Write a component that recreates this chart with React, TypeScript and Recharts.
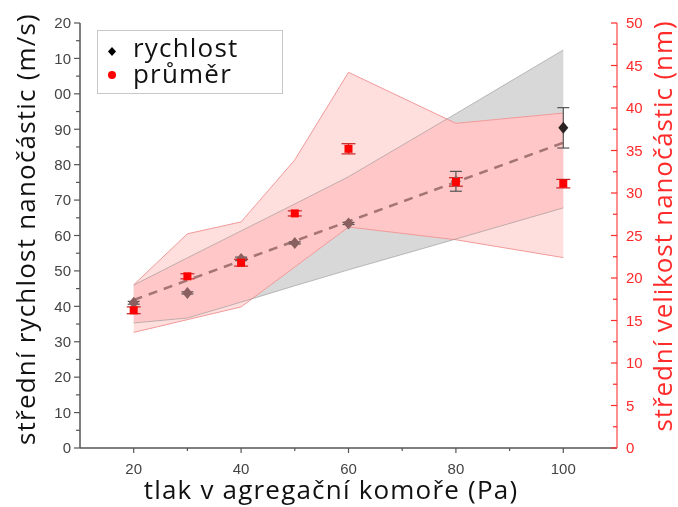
import {
  ComposedChart,
  Area,
  Line,
  Scatter,
  ErrorBar,
  XAxis,
  YAxis,
} from "recharts";

// tlak v agregační komoře (Pa)
const pressure = [20, 30, 40, 50, 60, 80, 100];

// střední rychlost (m/s), left axis
const velocity = [41.0, 43.8, 53.4, 57.9, 63.4, 75.3, 90.4];
const velocityErr = [0.4, 0.3, 0.5, 0.3, 0.3, 2.8, 5.7];
const velocityBandLow = [35.3, 36.7, 41.2, 45.8, 50.3, 59.0, 67.8];
const velocityBandHigh = [46.0, 53.7, 61.3, 68.9, 76.6, 94.4, 112.4];
// linear fit, drawn between the end points only
const velocityFit = [41.8, null, null, null, null, null, 86.2];

// střední velikost (nm), right axis
const diameter = [16.2, 20.2, 21.8, 27.6, 35.2, 31.3, 31.1];
const diameterErr = [0.4, 0.3, 0.4, 0.3, 0.6, 0.5, 0.5];
const diameterBandLow = [13.6, 15.1, 16.6, 21.3, 26.0, 24.5, 22.4];
const diameterBandHigh = [19.2, 25.2, 26.6, 33.9, 44.2, 38.2, 39.4];

const xTicks = [20, 30, 40, 50, 60, 70, 80, 90, 100];
const leftTicks = Array.from({ length: 25 }, (_, i) => i * 5);
const rightTicks = Array.from({ length: 21 }, (_, i) => i * 2.5);

const data = pressure.map((p, i) => ({
  x: p,
  vel: velocity[i],
  velErr: velocityErr[i],
  velBand: [velocityBandLow[i], velocityBandHigh[i]],
  fit: velocityFit[i],
  dia: diameter[i],
  diaErr: diameterErr[i],
  diaBand: [diameterBandLow[i], diameterBandHigh[i]],
}));

const AXIS = "#555";
const RED = "#ff2a2a";
const TICK_FONT = "'Liberation Sans', Arial, sans-serif";
const TITLE_FONT = "'Open Sans', 'Noto Sans', sans-serif";

const XTick = (props: any) => {
  const { x, y, payload } = props;
  const v = payload.value;
  const major = v % 20 === 0;
  return (
    <g>
      <line x1={x} x2={x} y1={y} y2={y + (major ? 5 : 3)} stroke={AXIS} strokeWidth={1.2} />
      {major && (
        <text x={x} y={y + 21} dy="0.35em" textAnchor="middle" fontSize={15} fill="#444" fontFamily={TICK_FONT}>
          {v}
        </text>
      )}
    </g>
  );
};

const LeftTick = (props: any) => {
  const { x, y, payload } = props;
  const v = payload.value;
  const major = v % 10 === 0;
  // the top labels are cut at the left edge in the original
  const label = v >= 100 ? String(v).slice(1) : String(v);
  return (
    <g>
      <line x1={x} x2={x - (major ? 6 : 4)} y1={y} y2={y} stroke={AXIS} strokeWidth={1.2} />
      {major && (
        <text x={x - 9} y={y} dy="0.35em" textAnchor="end" fontSize={15} fill="#444" fontFamily={TICK_FONT}>
          {label}
        </text>
      )}
    </g>
  );
};

const RightTick = (props: any) => {
  const { x, y, payload } = props;
  const v = payload.value;
  const major = v % 5 === 0;
  return (
    <g>
      <line x1={x} x2={x - (major ? 6 : 4)} y1={y} y2={y} stroke={RED} strokeWidth={1.2} />
      {major && (
        <text x={x + 9} y={y} dy="0.35em" textAnchor="start" fontSize={15} fill={RED} fontFamily={TICK_FONT}>
          {v}
        </text>
      )}
    </g>
  );
};

const Diamond = (props: any) => {
  const { cx, cy, index } = props;
  const fill = index === pressure.length - 1 ? "#2a2222" : "#8a5f5f";
  return (
    <polygon
      points={`${cx},${cy - 6} ${cx + 5},${cy} ${cx},${cy + 6} ${cx - 5},${cy}`}
      fill={fill}
    />
  );
};

const Square = (props: any) => {
  const { cx, cy } = props;
  return <rect x={cx - 4} y={cy - 4} width={8} height={8} fill="#ff0000" />;
};

const titleStyle = {
  position: "absolute" as const,
  whiteSpace: "nowrap" as const,
  fontFamily: TITLE_FONT,
  fontSize: 26,
  lineHeight: "26px",
};

export default function App() {
  return (
    <div style={{ position: "absolute", left: 0, top: 0, width: 678, height: 507, background: "#fff" }}>
      <style>{`.pink-tint .recharts-area-area { mix-blend-mode: color; }`}</style>
      <ComposedChart width={678} height={507} data={data} margin={{ top: 23, right: 0, left: 0, bottom: 0 }}>
        <XAxis
          dataKey="x"
          type="number"
          domain={[10, 110]}
          ticks={xTicks}
          height={59}
          axisLine={{ stroke: AXIS, strokeWidth: 1.5 }}
          tickLine={false}
          tickSize={0}
          tickMargin={0}
          tick={<XTick />}
          interval={0}
        />
        <XAxis
          xAxisId="top"
          dataKey="x"
          type="number"
          domain={[10, 110]}
          orientation="top"
          height={0}
          tick={false}
          tickLine={false}
          axisLine={{ stroke: AXIS, strokeWidth: 2 }}
        />
        <YAxis
          yAxisId="left"
          domain={[0, 120]}
          ticks={leftTicks}
          width={80}
          interval={0}
          axisLine={{ stroke: AXIS, strokeWidth: 1.5 }}
          tickLine={false}
          tickSize={0}
          tickMargin={0}
          tick={<LeftTick />}
        />
        <YAxis
          yAxisId="right"
          orientation="right"
          domain={[0, 50]}
          ticks={rightTicks}
          width={61}
          interval={0}
          axisLine={{ stroke: "#ff6b6b", strokeWidth: 1.5 }}
          tickLine={false}
          tickSize={0}
          tickMargin={0}
          tick={<RightTick />}
        />
        {/* pink band base */}
        <Area
          yAxisId="right"
          type="linear"
          dataKey="diaBand"
          stroke="none"
          fill="#ffdede"
          fillOpacity={1}
          isAnimationActive={false}
        />
        {/* grey band of the speed */}
        <Area
          yAxisId="left"
          type="linear"
          dataKey="velBand"
          stroke="none"
          fill="#d8d8d8"
          fillOpacity={1}
          isAnimationActive={false}
        />
        {/* pink tint over the grey where the bands overlap */}
        <Area
          className="pink-tint"
          yAxisId="right"
          type="linear"
          dataKey="diaBand"
          stroke="#f29a9a"
          strokeWidth={1}
          fill="#ff0000"
          fillOpacity={1}
          isAnimationActive={false}
        />
        {/* grey band edges */}
        <Area
          yAxisId="left"
          type="linear"
          dataKey="velBand"
          stroke="#8c8c8c"
          strokeOpacity={0.55}
          strokeWidth={1}
          fill="none"
          isAnimationActive={false}
        />
        <Line
          yAxisId="left"
          type="linear"
          dataKey="fit"
          stroke="#a57474"
          strokeWidth={2.5}
          strokeDasharray="9 7"
          dot={false}
          connectNulls
          isAnimationActive={false}
        />
        <Scatter yAxisId="left" dataKey="vel" shape={<Diamond />} isAnimationActive={false}>
          <ErrorBar dataKey="velErr" direction="y" width={6} stroke="#555" strokeWidth={1.2} />
        </Scatter>
        <Scatter yAxisId="right" dataKey="dia" shape={<Square />} isAnimationActive={false}>
          <ErrorBar dataKey="diaErr" direction="y" width={7} stroke="#c42020" strokeWidth={1.2} />
        </Scatter>
      </ComposedChart>

      {/* legend */}
      <div
        style={{
          position: "absolute",
          left: 97,
          top: 30,
          width: 184,
          height: 62,
          border: "1px solid #c8c8c8",
          background: "#fff",
          fontFamily: TITLE_FONT,
          fontSize: 26,
          lineHeight: "26px",
          letterSpacing: "1.2px",
          color: "#111",
        }}
      >
        <div style={{ position: "absolute", left: 35, top: 3 }}>rychlost</div>
        <div style={{ position: "absolute", left: 35, top: 29 }}>průměr</div>
        <svg style={{ position: "absolute", left: 0, top: 0 }} width={30} height={62}>
          <polygon points="14,16 18,20.5 14,25 10,20.5" fill="#000" />
          <circle cx={14} cy={44} r={4} fill="#ff0000" />
        </svg>
      </div>

      {/* axis titles */}
      <div
        style={{
          ...titleStyle,
          left: 25,
          top: 229,
          letterSpacing: "1.2px",
          transform: "translate(-50%, -50%) rotate(-90deg)",
          color: "#111",
        }}
      >
        střední rychlost nanočástic (m/s)
      </div>
      <div
        style={{
          ...titleStyle,
          left: 662,
          top: 226,
          letterSpacing: "0.9px",
          transform: "translate(-50%, -50%) rotate(-90deg)",
          color: RED,
        }}
      >
        střední velikost nanočástic (nm)
      </div>
      <div
        style={{
          ...titleStyle,
          left: 331,
          top: 489,
          letterSpacing: "1.2px",
          transform: "translate(-50%, -50%)",
          color: "#111",
        }}
      >
        tlak v agregační komoře (Pa)
      </div>
    </div>
  );
}
